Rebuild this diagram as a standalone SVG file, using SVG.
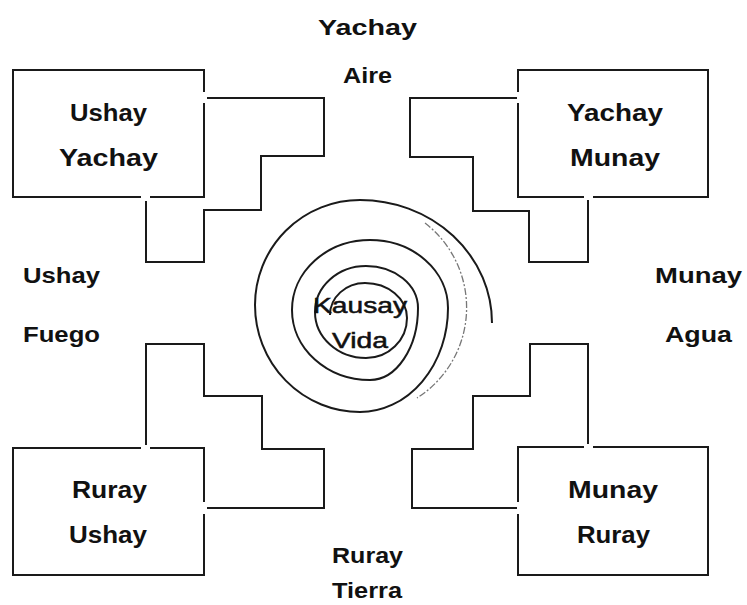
<svg xmlns="http://www.w3.org/2000/svg" width="747" height="605" viewBox="0 0 747 605">
<style>
.ln{fill:none;stroke:#1a1a1a;stroke-width:2;stroke-linejoin:miter;stroke-linecap:butt}
.t{font-family:"Liberation Sans",Arial,sans-serif;font-weight:bold;fill:#111;text-anchor:middle;font-size:23.5px}
.s{font-size:22.5px}
.c{font-family:"Liberation Sans",Arial,sans-serif;font-weight:normal;fill:#111;stroke:#111;stroke-width:0.5;text-anchor:middle;font-size:22px}
.sp{fill:none;stroke:#1a1a1a;stroke-width:2}
.fa{fill:none;stroke:#777;stroke-width:1.3;stroke-dasharray:7 2 2 2}
</style>
<rect width="747" height="605" fill="#fff"/>

<g id="node-ushay-yachay">
<path class="ln" d="M141,197 H13 V70 H204 V92 M204,103 V197 H150"/>
<text class="t" x="108.5" y="121" textLength="77" lengthAdjust="spacingAndGlyphs">Ushay</text>
<text class="t" x="108.5" y="166" textLength="99" lengthAdjust="spacingAndGlyphs">Yachay</text>
</g>

<g id="node-yachay-munay">
<path class="ln" d="M593,197 H708 V70 H518 V92 M518,103 V197 H584"/>
<text class="t" x="615" y="121" textLength="96" lengthAdjust="spacingAndGlyphs">Yachay</text>
<text class="t" x="615" y="166" textLength="90" lengthAdjust="spacingAndGlyphs">Munay</text>
</g>

<g id="node-ruray-ushay">
<path class="ln" d="M150,448 H204 V502 M204,514 V575 H13 V448 H141"/>
<text class="t" x="109.5" y="498" textLength="75" lengthAdjust="spacingAndGlyphs">Ruray</text>
<text class="t" x="108" y="543" textLength="78" lengthAdjust="spacingAndGlyphs">Ushay</text>
</g>

<g id="node-munay-ruray">
<path class="ln" d="M593,447 H708 V575 H518 V514 M518,502 V447 H584"/>
<text class="t" x="613" y="498" textLength="90" lengthAdjust="spacingAndGlyphs">Munay</text>
<text class="t" x="613.5" y="543" textLength="73" lengthAdjust="spacingAndGlyphs">Ruray</text>
</g>

<g id="node-kausay-vida">
<path class="sp" d="M330,315 A35,32 0 0 1 365,283 A42,35 0 0 1 407,318 A41,40 0 0 1 366,358 A51,46 0 0 1 315,312 A51,46 0 0 1 366,266 A52,42 0 0 1 418,308 A48,72 0 0 1 370,380 A78,70 0 0 1 292,310 A78,70 0 0 1 370,240 A78,68 0 0 1 448,308 A88,104 0 0 1 360,412 A105,107 0 0 1 255,305 A105,105 0 0 1 360,200 A132,123 0 0 1 492,323"/>
<path class="fa" d="M425,223 A107,107 0 0 1 417,398"/>
<text class="c" x="360" y="313" textLength="94" lengthAdjust="spacingAndGlyphs">Kausay</text>
<text class="c" x="360" y="348" textLength="56" lengthAdjust="spacingAndGlyphs">Vida</text>
</g>

<g id="connectors">
<path class="ln" d="M146,201 V262 H204 V210 H261 V156 H324 V98 H207"/>
<path class="ln" d="M517,98 H410 V157 H473 V211 H529 V262 H588 V200"/>
<path class="ln" d="M146,445 V344 H204 V396 H262 V449 H324 V508 H207"/>
<path class="ln" d="M588,444 V344 H530 V396 H473 V449 H412 V508 H517"/>
</g>

<g id="labels">
<text class="t s" x="367.5" y="35" textLength="99" lengthAdjust="spacingAndGlyphs">Yachay</text>
<text class="t s" x="367.5" y="83" textLength="49" lengthAdjust="spacingAndGlyphs">Aire</text>
<text class="t s" x="61.5" y="283" textLength="77" lengthAdjust="spacingAndGlyphs">Ushay</text>
<text class="t s" x="61.5" y="342" textLength="77" lengthAdjust="spacingAndGlyphs">Fuego</text>
<text class="t s" x="698.5" y="283" textLength="87" lengthAdjust="spacingAndGlyphs">Munay</text>
<text class="t s" x="698.5" y="342" textLength="67" lengthAdjust="spacingAndGlyphs">Agua</text>
<text class="t s" x="367.5" y="563" textLength="71" lengthAdjust="spacingAndGlyphs">Ruray</text>
<text class="t s" x="367" y="598" textLength="70" lengthAdjust="spacingAndGlyphs">Tierra</text>
</g>
</svg>
